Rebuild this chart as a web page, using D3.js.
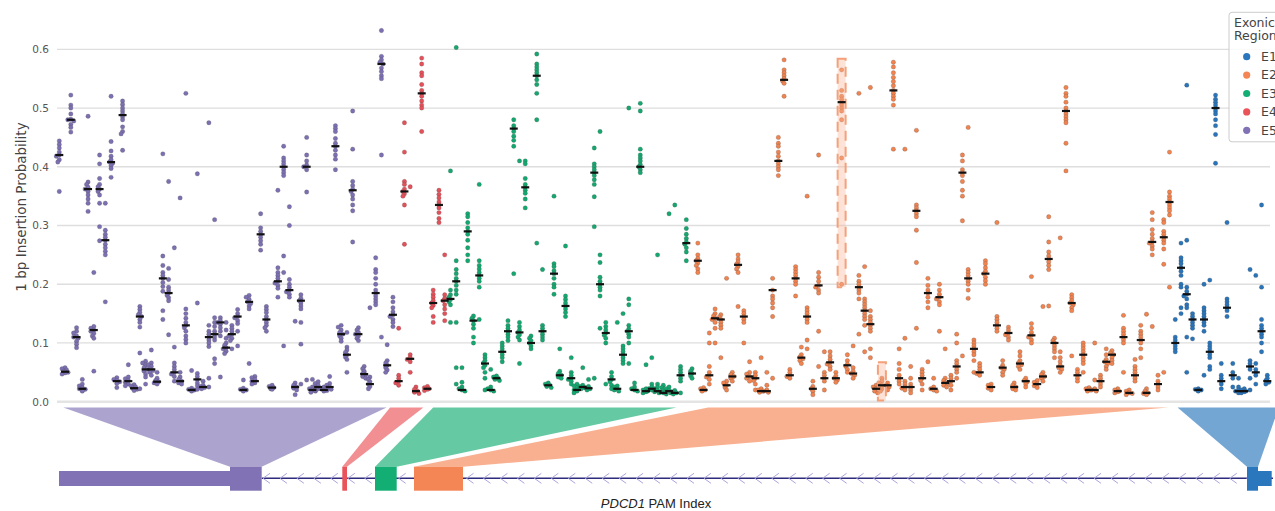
<!DOCTYPE html>
<html><head><meta charset="utf-8">
<script src="https://cdn.jsdelivr.net/npm/d3@7"></script>
<style>body{margin:0;background:#fff}svg{display:block}</style>
</head><body><svg id="chart" width="1275" height="511"></svg>
<script>
// ---------------- DATA ----------------
const exonNames  = ["E1","E2","E3","E4","E5"];
const exonColors = ["#2a74b9","#f0834f","#14a870","#e4515a","#7d70b2"];
const boxColors  = ["#2a77bd","#f48655","#13ae73","#ea5359","#8072b4"];
// first PAM index of each exon's guides (plot order E5,E4,E3,E2,E1)
const pamStart = {E5:0, E4:59, E3:68, E2:111, E1:194};
const pamMax = 210;
const yTicks = [0,0.1,0.2,0.3,0.4,0.5,0.6];

const e5Medians = [0.42,0.051,0.48,0.11,0.022,0.362,0.122,0.362,0.275,0.408,0.035,0.488,0.035,0.023,0.145,0.055,0.055,0.034,0.21,0.185,0.05,0.035,0.13,0.02,0.038,0.025,0.11,0.115,0.135,0.092,0.115,0.145,0.02,0.17,0.035,0.285,0.14,0.024,0.205,0.40,0.19,0.025,0.172,0.40,0.02,0.025,0.02,0.025,0.435,0.115,0.08,0.36,0.115,0.047,0.03,0.185,0.575,0.062,0.148];
const e5Values = [
[0.358,0.408,0.412,0.418,0.42,0.425,0.432,0.438,0.444],
[0.047,0.049,0.05,0.051,0.052,0.054,0.056,0.058],
[0.459,0.467,0.472,0.478,0.48,0.481,0.49,0.5,0.505,0.522],
[0.092,0.098,0.103,0.108,0.11,0.112,0.117,0.12,0.126],
[0.018,0.02,0.021,0.022,0.024,0.027,0.03,0.038],
[0.324,0.338,0.345,0.352,0.358,0.362,0.365,0.37,0.374,0.486],
[0.052,0.108,0.112,0.116,0.12,0.122,0.125,0.128,0.22],
[0.274,0.298,0.338,0.352,0.358,0.362,0.366,0.37,0.38,0.405,0.42],
[0.17,0.25,0.256,0.262,0.268,0.275,0.28,0.285,0.292,0.338],
[0.382,0.397,0.402,0.406,0.408,0.412,0.418,0.427,0.443,0.52],
[0.024,0.031,0.034,0.036,0.038,0.041],
[0.428,0.456,0.46,0.468,0.48,0.485,0.49,0.495,0.5,0.506,0.512],
[0.027,0.03,0.033,0.036,0.039,0.042,0.063],
[0.019,0.021,0.023,0.025,0.027,0.029],
[0.022,0.083,0.127,0.135,0.14,0.145,0.148,0.152,0.157,0.162],
[0.03,0.042,0.047,0.052,0.055,0.058,0.062,0.066,0.069],
[0.045,0.05,0.053,0.056,0.06,0.063,0.066,0.088],
[0.03,0.032,0.034,0.036,0.04,0.05],
[0.14,0.155,0.188,0.196,0.203,0.21,0.215,0.22,0.232,0.248,0.422],
[0.114,0.172,0.177,0.181,0.185,0.19,0.195,0.208,0.227,0.375],
[0.035,0.043,0.047,0.05,0.055,0.06,0.066,0.093,0.262],
[0.03,0.032,0.035,0.038,0.042,0.05,0.347],
[0.1,0.106,0.112,0.12,0.126,0.13,0.135,0.142,0.15,0.158,0.525],
[0.018,0.019,0.02,0.021,0.023,0.053],
[0.021,0.027,0.032,0.038,0.043,0.048,0.168,0.388],
[0.022,0.024,0.026,0.028,0.035],
[0.025,0.04,0.094,0.1,0.105,0.11,0.115,0.12,0.13,0.475],
[0.065,0.073,0.105,0.11,0.115,0.12,0.128,0.135,0.143,0.31],
[0.042,0.112,0.12,0.126,0.132,0.135,0.138,0.143],
[0.082,0.086,0.09,0.092,0.096,0.1,0.108,0.122,0.135],
[0.09,0.104,0.108,0.112,0.115,0.12,0.125,0.13],
[0.095,0.12,0.133,0.138,0.143,0.145,0.15,0.157],
[0.018,0.019,0.02,0.021,0.023,0.037],
[0.065,0.158,0.163,0.167,0.17,0.174,0.178,0.181],
[0.03,0.032,0.035,0.038,0.041,0.043],
[0.258,0.268,0.274,0.28,0.285,0.29,0.296,0.32],
[0.12,0.126,0.13,0.135,0.14,0.145,0.152,0.157,0.162],
[0.021,0.022,0.024,0.026,0.028],
[0.178,0.193,0.198,0.202,0.205,0.21,0.215,0.22,0.228,0.36],
[0.095,0.22,0.248,0.385,0.39,0.395,0.4,0.405,0.41,0.415,0.435],
[0.178,0.183,0.187,0.19,0.195,0.2,0.208,0.3,0.332],
[0.012,0.02,0.023,0.025,0.028,0.032,0.137],
[0.03,0.098,0.135,0.158,0.163,0.168,0.172,0.176,0.182],
[0.037,0.357,0.395,0.4,0.403,0.41,0.42,0.45],
[0.016,0.018,0.02,0.022,0.025,0.038],
[0.019,0.022,0.025,0.028,0.031,0.034],
[0.018,0.019,0.02,0.022,0.025],
[0.021,0.023,0.025,0.028,0.031,0.043],
[0.395,0.413,0.42,0.428,0.435,0.44,0.448,0.46,0.465,0.47],
[0.103,0.108,0.112,0.115,0.118,0.122,0.127,0.13],
[0.05,0.072,0.076,0.08,0.084,0.088,0.093,0.118],
[0.272,0.325,0.335,0.345,0.352,0.358,0.362,0.368,0.375,0.43,0.495],
[0.104,0.108,0.112,0.115,0.118,0.122,0.126],
[0.04,0.043,0.046,0.048,0.052,0.056,0.06],
[0.022,0.026,0.03,0.034,0.038,0.042,0.16],
[0.165,0.17,0.175,0.18,0.185,0.19,0.2,0.21,0.22,0.225,0.245],
[0.11,0.42,0.55,0.555,0.562,0.568,0.575,0.578,0.582,0.588,0.632],
[0.05,0.054,0.058,0.062,0.066,0.07,0.097],
[0.128,0.135,0.14,0.145,0.148,0.153,0.16,0.17,0.178]
];

const e4Medians = [0.035,0.358,0.073,0.018,0.525,0.022,0.168,0.335,0.172];
const e4Values = [
[0.028,0.032,0.035,0.04,0.045,0.125],
[0.268,0.335,0.35,0.354,0.358,0.362,0.37,0.375,0.425,0.475],
[0.05,0.068,0.072,0.075,0.08,0.366],
[0.014,0.016,0.018,0.021,0.025],
[0.46,0.5,0.505,0.512,0.52,0.525,0.53,0.54,0.555,0.56,0.575,0.585],
[0.019,0.021,0.022,0.024,0.026],
[0.135,0.145,0.16,0.164,0.168,0.172,0.178,0.183,0.19],
[0.305,0.312,0.322,0.33,0.335,0.34,0.347,0.353,0.36],
[0.138,0.15,0.158,0.165,0.172,0.176,0.182,0.25]
];

const e3Medians = [0.175,0.205,0.02,0.29,0.138,0.215,0.065,0.02,0.04,0.085,0.12,0.465,0.118,0.365,0.1,0.555,0.12,0.028,0.218,0.045,0.163,0.04,0.02,0.025,0.023,0.39,0.2,0.117,0.038,0.022,0.08,0.12,0.02,0.40,0.018,0.022,0.018,0.015,0.018,0.015,0.045,0.27,0.048];
const e3Values = [
[0.135,0.165,0.17,0.174,0.178,0.182,0.19,0.393],
[0.03,0.058,0.135,0.183,0.19,0.198,0.205,0.21,0.218,0.225,0.24,0.603],
[0.018,0.02,0.022,0.025,0.033,0.058],
[0.24,0.25,0.262,0.275,0.285,0.29,0.296,0.305,0.315,0.32],
[0.1,0.11,0.125,0.132,0.138,0.142,0.146],
[0.14,0.195,0.205,0.21,0.215,0.22,0.226,0.232,0.24,0.37],
[0.02,0.04,0.05,0.058,0.062,0.066,0.07,0.075,0.08],
[0.018,0.02,0.022,0.025,0.055],
[0.036,0.038,0.04,0.042,0.044],
[0.068,0.075,0.08,0.085,0.09,0.095,0.1],
[0.104,0.11,0.115,0.12,0.125,0.13,0.138],
[0.218,0.435,0.445,0.452,0.46,0.465,0.47,0.48],
[0.065,0.105,0.11,0.114,0.118,0.122,0.128,0.135,0.41],
[0.33,0.345,0.355,0.36,0.365,0.37,0.38,0.405,0.41],
[0.09,0.095,0.1,0.104,0.108,0.112],
[0.27,0.48,0.525,0.54,0.548,0.555,0.56,0.565,0.57,0.575,0.592],
[0.105,0.11,0.115,0.12,0.125,0.13,0.225],
[0.024,0.026,0.028,0.03,0.032],
[0.183,0.195,0.2,0.21,0.218,0.223,0.23,0.235,0.35],
[0.04,0.042,0.045,0.048,0.052,0.09],
[0.145,0.152,0.158,0.163,0.168,0.174,0.18,0.265],
[0.03,0.035,0.038,0.04,0.045,0.05,0.075],
[0.015,0.018,0.02,0.023,0.027,0.03],
[0.022,0.024,0.026,0.028,0.058],
[0.02,0.022,0.024,0.026,0.038],
[0.04,0.298,0.349,0.37,0.378,0.385,0.39,0.395,0.4,0.405,0.432],
[0.125,0.18,0.19,0.195,0.2,0.205,0.212,0.237,0.25,0.46],
[0.03,0.1,0.108,0.113,0.117,0.122,0.128,0.135],
[0.022,0.028,0.034,0.038,0.043,0.05],
[0.018,0.02,0.022,0.025,0.027,0.135],
[0.065,0.07,0.075,0.08,0.085,0.09,0.095,0.15],
[0.065,0.1,0.11,0.115,0.12,0.124,0.13,0.165,0.175,0.5],
[0.018,0.02,0.022,0.025,0.032],
[0.39,0.395,0.4,0.404,0.41,0.415,0.42,0.43,0.495,0.508],
[0.015,0.017,0.018,0.02,0.022,0.063],
[0.018,0.02,0.022,0.025,0.03,0.075],
[0.015,0.017,0.019,0.022,0.025,0.03,0.25],
[0.013,0.015,0.017,0.02,0.024,0.028],
[0.015,0.017,0.019,0.022,0.025,0.32],
[0.013,0.015,0.017,0.019,0.335],
[0.015,0.035,0.04,0.045,0.05,0.055,0.06],
[0.24,0.255,0.262,0.268,0.272,0.278,0.285,0.295,0.31],
[0.04,0.044,0.048,0.052,0.056]
];

const e2Medians = [0.24,0.02,0.045,0.142,0.14,0.028,0.043,0.233,0.145,0.043,0.04,0.018,0.018,0.19,0.41,0.548,0.045,0.21,0.075,0.145,0.022,0.198,0.04,0.067,0.04,0.51,0.062,0.048,0.195,0.155,0.132,0.022,0.028,0.028,0.53,0.04,0.025,0.025,0.325,0.04,0.185,0.022,0.178,0.032,0.035,0.06,0.39,0.21,0.09,0.05,0.218,0.025,0.13,0.058,0.117,0.025,0.065,0.035,0.113,0.03,0.043,0.243,0.1,0.06,0.495,0.168,0.045,0.08,0.02,0.02,0.035,0.068,0.08,0.018,0.11,0.015,0.045,0.105,0.015,0.272,0.03,0.28,0.34];
const e2Values = [
[0.22,0.226,0.232,0.236,0.24,0.244,0.25,0.27],
[0.018,0.02,0.022,0.024],
[0.03,0.038,0.042,0.045,0.05,0.06,0.1,0.117],
[0.1,0.125,0.135,0.14,0.142,0.146,0.15,0.158],
[0.075,0.125,0.13,0.135,0.14,0.144,0.148],
[0.02,0.024,0.028,0.032,0.035,0.21],
[0.035,0.04,0.043,0.046,0.05],
[0.162,0.22,0.226,0.23,0.234,0.238,0.243,0.25],
[0.1,0.135,0.14,0.145,0.15,0.155],
[0.035,0.04,0.043,0.047,0.05,0.068],
[0.02,0.03,0.036,0.04,0.045,0.05],
[0.016,0.018,0.02,0.022,0.075],
[0.016,0.018,0.02,0.028,0.05],
[0.04,0.145,0.16,0.168,0.175,0.18,0.19,0.21],
[0.385,0.395,0.4,0.405,0.41,0.418,0.425,0.435,0.44,0.45],
[0.52,0.542,0.546,0.55,0.555,0.56,0.565,0.582],
[0.04,0.043,0.045,0.05,0.055],
[0.18,0.2,0.205,0.21,0.215,0.22,0.225,0.23],
[0.065,0.07,0.073,0.076,0.08,0.093],
[0.09,0.105,0.135,0.14,0.145,0.15,0.155,0.16,0.35],
[0.012,0.018,0.022,0.026,0.035],
[0.06,0.12,0.185,0.19,0.195,0.198,0.205,0.212,0.22,0.42],
[0.02,0.035,0.04,0.045,0.05,0.085],
[0.055,0.06,0.064,0.067,0.072,0.078,0.085],
[0.033,0.037,0.04,0.044,0.05],
[0.2,0.415,0.48,0.495,0.5,0.505,0.51,0.515,0.52,0.53,0.565],
[0.05,0.055,0.06,0.064,0.07,0.08],
[0.04,0.045,0.048,0.052,0.058,0.095],
[0.115,0.175,0.185,0.19,0.195,0.2,0.205,0.215,0.525],
[0.085,0.13,0.14,0.145,0.15,0.155,0.16,0.165,0.17,0.175,0.23],
[0.075,0.09,0.12,0.125,0.13,0.135,0.14,0.145,0.155,0.535],
[0.015,0.018,0.022,0.025,0.028],
[0.018,0.022,0.025,0.028,0.032,0.035,0.04],
[0.02,0.025,0.028,0.032],
[0.43,0.505,0.515,0.52,0.525,0.53,0.538,0.545,0.552,0.56,0.57,0.578],
[0.03,0.035,0.04,0.045,0.055,0.065,0.09],
[0.02,0.023,0.025,0.03,0.035,0.108,0.43],
[0.015,0.02,0.025,0.03,0.04,0.06],
[0.125,0.237,0.292,0.315,0.32,0.325,0.33,0.335,0.462],
[0.02,0.03,0.036,0.04,0.045,0.05,0.055],
[0.068,0.16,0.17,0.178,0.185,0.19,0.198,0.21],
[0.018,0.02,0.022,0.025,0.04],
[0.12,0.165,0.17,0.175,0.178,0.183,0.19,0.2],
[0.025,0.028,0.032,0.036,0.04,0.09],
[0.02,0.028,0.032,0.035,0.04,0.045],
[0.04,0.05,0.055,0.06,0.065,0.07,0.1,0.115],
[0.078,0.308,0.35,0.36,0.375,0.385,0.39,0.395,0.41,0.42],
[0.176,0.19,0.2,0.205,0.21,0.215,0.22,0.225,0.467],
[0.05,0.07,0.08,0.085,0.09,0.095,0.1,0.105],
[0.045,0.048,0.05,0.055,0.06,0.065],
[0.2,0.206,0.212,0.218,0.222,0.228,0.235,0.24],
[0.02,0.023,0.025,0.028,0.03],
[0.12,0.125,0.13,0.135,0.14,0.145,0.305],
[0.045,0.05,0.055,0.058,0.062,0.07],
[0.105,0.11,0.114,0.117,0.122,0.127],
[0.02,0.022,0.025,0.028,0.032],
[0.055,0.06,0.063,0.066,0.07,0.078,0.085],
[0.025,0.03,0.034,0.036,0.04],
[0.1,0.105,0.11,0.113,0.118,0.125,0.133,0.213],
[0.024,0.027,0.03,0.033,0.036],
[0.035,0.04,0.043,0.046,0.05,0.162],
[0.163,0.225,0.232,0.238,0.243,0.248,0.255,0.272,0.315],
[0.075,0.085,0.09,0.095,0.1,0.104,0.108],
[0.05,0.055,0.058,0.062,0.068,0.075,0.085,0.279],
[0.393,0.44,0.475,0.48,0.485,0.49,0.495,0.5,0.51,0.52,0.525,0.535],
[0.078,0.155,0.16,0.165,0.168,0.172,0.177,0.182],
[0.035,0.04,0.045,0.05,0.055],
[0.05,0.065,0.07,0.075,0.08,0.085,0.09,0.095,0.1],
[0.018,0.02,0.022,0.024],
[0.018,0.02,0.022,0.037,0.1],
[0.025,0.03,0.035,0.04,0.045],
[0.055,0.06,0.065,0.068,0.072,0.08,0.09],
[0.065,0.07,0.075,0.08,0.083,0.087],
[0.015,0.017,0.018,0.02,0.022],
[0.05,0.1,0.105,0.11,0.115,0.12,0.125,0.147],
[0.012,0.014,0.015,0.018,0.02],
[0.035,0.04,0.045,0.05,0.055,0.06,0.072],
[0.075,0.09,0.1,0.105,0.11,0.115,0.12,0.13],
[0.012,0.014,0.015,0.018,0.022,0.149],
[0.128,0.25,0.26,0.265,0.27,0.272,0.278,0.285,0.293,0.31,0.322],
[0.02,0.025,0.03,0.035,0.045],
[0.05,0.234,0.26,0.27,0.275,0.28,0.285,0.29,0.305,0.31],
[0.195,0.318,0.325,0.33,0.335,0.34,0.345,0.35,0.357,0.425]
];

const e1Medians = [0.1,0.228,0.183,0.14,0.02,0.14,0.085,0.5,0.035,0.16,0.045,0.018,0.018,0.06,0.05,0.12,0.035];
const e1Values = [
[0.085,0.09,0.095,0.1,0.105,0.11,0.14],
[0.15,0.16,0.195,0.2,0.215,0.222,0.228,0.235,0.24,0.245,0.27],
[0.05,0.11,0.16,0.165,0.175,0.18,0.183,0.188,0.195,0.275,0.539],
[0.107,0.125,0.13,0.135,0.14,0.145,0.15],
[0.018,0.019,0.02,0.021,0.022],
[0.045,0.12,0.13,0.135,0.14,0.145,0.15,0.155,0.16,0.2],
[0.055,0.06,0.075,0.08,0.085,0.09,0.095,0.1,0.207],
[0.406,0.455,0.47,0.48,0.49,0.495,0.5,0.505,0.51,0.515,0.522],
[0.022,0.03,0.035,0.04,0.045,0.065],
[0.145,0.155,0.16,0.165,0.17,0.175,0.305],
[0.025,0.04,0.045,0.05,0.065],
[0.015,0.018,0.02,0.025,0.04],
[0.015,0.017,0.018,0.02,0.022],
[0.02,0.04,0.055,0.06,0.065,0.07,0.225],
[0.03,0.045,0.05,0.055,0.065,0.215],
[0.085,0.1,0.11,0.115,0.12,0.125,0.13,0.14,0.195,0.335],
[0.03,0.033,0.036,0.04,0.045]
];

// highlighted guides
const highlightPam = [136, 143];
const highlightLo  = [0.195, 0.002];
const highlightHi  = [0.584, 0.067];

// gene model (gene coordinate units)
const geneLength = 1214;
const partExon  = ["E5","E5","E4","E3","E2","E1","E1"];
const partStart = [0,171,283.3,316,355,1188,1199];
const partEnd   = [171,202.7,288,337.7,404,1199,1212.7];
const partCoding= [false,true,true,true,true,true,false];
const intronStart = 202.7, intronEnd = 1214;
// PAM-index span each exon occupies in the plot (top of the connector)
const trapExon  = ["E5","E4","E3","E2","E1"];
const trapPamLo = [0.7,57.5,65.0,112.8,194.4];
const trapPamHi = [56.9,63.3,107.3,192.8,212.0];

// ---------------- CHART ----------------
const svg = d3.select("#chart");
const x = d3.scaleLinear().domain([0, pamMax]).range([59.3, 1267.3]);
const y = d3.scaleLinear().domain([0, 0.6]).range([401.7, 49.3]);
const g = d3.scaleLinear().domain([0, geneLength]).range([59, 1273]);
const colorOf = d3.scaleOrdinal().domain(exonNames).range(exonColors);
const boxColorOf = d3.scaleOrdinal().domain(exonNames).range(boxColors);

// gridlines + y axis
const yAxis = d3.axisLeft(y).tickValues(yTicks).tickFormat(d3.format(".1f")).tickSize(0).tickPadding(8);
const ya = svg.append("g").attr("transform","translate(57,0)").call(yAxis);
ya.select(".domain").remove();
ya.selectAll("text").attr("font-family","DejaVu Sans").attr("font-size",10.5).attr("fill","#555");
svg.append("g").selectAll("line").data(yTicks).join("line")
  .attr("x1",57).attr("x2",1270).attr("y1",d=>y(d)).attr("y2",d=>y(d))
  .attr("stroke",d=>d===0?"#e4e4e4":"#dedede").attr("stroke-width",d=>d===0?2.5:1.3);

svg.append("text").attr("transform","translate(21,207) rotate(-90)")
  .attr("text-anchor","middle").attr("dominant-baseline","central")
  .attr("font-family","DejaVu Sans").attr("font-size",13.5).attr("fill","#444")
  .text("1 bp Insertion Probability");

// connectors (trapezoids)
const topY = 407.5, boxTop = 466.7, boxBot = 490.7, utrTop = 471, utrBot = 486, lineY = 478.3;
const codingIdx = e => partExon.findIndex((p,i)=>p===e && partCoding[i]);
svg.append("g").selectAll("path").data(trapExon).join("path")
  .attr("d",(e,i)=>{
    const k = codingIdx(e);
    const bl = g(partStart[k]), br = g(partEnd[k]);
    return `M${x(trapPamLo[i])},${topY}L${x(trapPamHi[i])},${topY}L${br},${boxTop}L${bl},${boxTop}Z`;
  })
  .attr("fill",e=>boxColorOf(e)).attr("fill-opacity",0.65);

// intron line and strand chevrons
svg.append("line").attr("x1",g(intronStart)).attr("x2",g(intronEnd))
  .attr("y1",lineY).attr("y2",lineY).attr("stroke","#2e2a7c").attr("stroke-width",1.5);
const chev = d3.range(g(intronStart)+1.3, g(intronEnd)-20, 16.96);
svg.append("g").selectAll("path").data(chev).join("path")
  .attr("d",d=>`M${d+7},${lineY-5}L${d},${lineY}L${d+7},${lineY+5}`)
  .attr("fill","none").attr("stroke","#aaa5dc").attr("stroke-width",1);

// exon boxes
svg.append("g").selectAll("rect").data(partExon.map((e,i)=>i)).join("rect")
  .attr("x",i=>g(partStart[i])).attr("width",i=>g(partEnd[i])-g(partStart[i]))
  .attr("y",i=>partCoding[i]?boxTop:utrTop).attr("height",i=>partCoding[i]?boxBot-boxTop:utrBot-utrTop)
  .attr("fill",i=>boxColorOf(partExon[i]));

// assemble columns
const groups = [["E5",e5Values,e5Medians],["E4",e4Values,e4Medians],["E3",e3Values,e3Medians],["E2",e2Values,e2Medians],["E1",e1Values,e1Medians]];
const columns = [];
groups.forEach(([ex,vals,meds])=>vals.forEach((v,i)=>columns.push({exon:ex, pam:pamStart[ex]+i, values:v, median:meds[i]})));

// swarm placement
function swarm(col){
  const pts = col.values.map(v=>({v, py:y(v)})).sort((a,b)=>a.py-b.py);
  const placed=[]; const cands=[0,-1.5,1.5,-3,3];
  pts.forEach(p=>{
    let dx=0;
    for(const c of cands){ if(placed.every(q=>Math.hypot(q.dx-c,q.py-p.py)>=2.7)){dx=c;break;} }
    p.dx=dx; placed.push(p);
  });
  return pts.map(p=>({exon:col.exon, cx:x(col.pam)+p.dx, cy:p.py}));
}
const points = columns.flatMap(swarm);
svg.append("g").selectAll("circle").data(points).join("circle")
  .attr("cx",d=>d.cx).attr("cy",d=>d.cy).attr("r",2.2)
  .attr("fill",d=>colorOf(d.exon)).attr("stroke","#444").attr("stroke-opacity",0.35).attr("stroke-width",0.6);

// highlight boxes
svg.append("g").selectAll("rect").data(highlightPam.map((p,i)=>i)).join("rect")
  .attr("x",i=>x(highlightPam[i])-4).attr("width",8)
  .attr("y",i=>y(highlightHi[i])).attr("height",i=>y(highlightLo[i])-y(highlightHi[i]))
  .attr("fill","#f9b89a").attr("fill-opacity",0.4)
  .attr("stroke","#f4a07a").attr("stroke-width",2).attr("stroke-dasharray","10,6");

// medians
svg.append("g").selectAll("line").data(columns).join("line")
  .attr("x1",d=>x(d.pam)-4).attr("x2",d=>x(d.pam)+4)
  .attr("y1",d=>y(d.median)).attr("y2",d=>y(d.median))
  .attr("stroke","#111").attr("stroke-width",2.2);

// x label
const xl = svg.append("text").attr("x",656).attr("y",508).attr("text-anchor","middle")
  .attr("font-family","Liberation Sans, Arial, sans-serif").attr("font-size",13).attr("fill","#222");
xl.append("tspan").attr("font-style","italic").text("PDCD1");
xl.append("tspan").text(" PAM Index");

// legend
const lg = svg.append("g");
lg.append("rect").attr("x",1229).attr("y",12.3).attr("width",80).attr("height",129.5).attr("rx",3)
  .attr("fill","#fff").attr("fill-opacity",0.85).attr("stroke","#cccccc");
lg.append("text").attr("x",1234).attr("y",27).attr("font-family","DejaVu Sans").attr("font-size",12.5).attr("fill","#444").text("Exonic");
lg.append("text").attr("x",1234).attr("y",40).attr("font-family","DejaVu Sans").attr("font-size",12.5).attr("fill","#444").text("Region");
const li = lg.selectAll("g.it").data(exonNames).join("g").attr("class","it")
  .attr("transform",(d,i)=>`translate(0,${56.7+i*18.4})`);
li.append("circle").attr("cx",1246.7).attr("cy",0).attr("r",3.6).attr("fill",d=>boxColorOf(d));
li.append("text").attr("x",1261).attr("y",4.3).attr("font-family","DejaVu Sans").attr("font-size",12.5).attr("fill","#444").text(d=>d);
</script>
</body></html>
